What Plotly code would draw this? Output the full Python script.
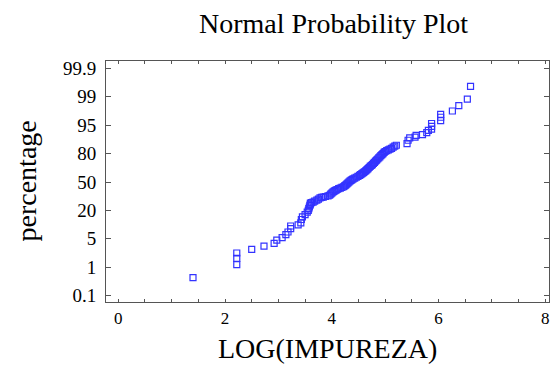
import numpy as np
import plotly.graph_objects as go

# ---- data ----
log_impureza = [
    1.40, 2.22, 2.22, 2.22, 2.50, 2.73, 2.92, 2.97, 3.07, 3.14, 3.18, 3.23, 3.23, 3.37, 3.42, 3.43,
    3.45, 3.50, 3.54, 3.56, 3.57, 3.58, 3.59, 3.60, 3.60, 3.62, 3.65, 3.68, 3.72, 3.75, 3.78, 3.81,
    3.84, 3.88, 3.93,
    3.96, 3.98, 4.00, 4.02, 4.04, 4.06, 4.08, 4.10, 4.13, 4.16, 4.19, 4.22, 4.24, 4.26, 4.28, 4.30,
    4.32, 4.34, 4.36, 4.38, 4.40, 4.43, 4.46, 4.49, 4.52, 4.54, 4.56, 4.58, 4.60, 4.62, 4.64, 4.66,
    4.68, 4.70, 4.72, 4.74, 4.76, 4.78, 4.80, 4.82, 4.84, 4.86, 4.88, 4.90, 4.92, 4.94, 4.96, 4.98,
    5.00, 5.03, 5.06, 5.09, 5.12, 5.15, 5.18, 5.21,
    5.41, 5.43, 5.46, 5.56, 5.58, 5.70, 5.78, 5.81, 5.87, 5.87, 5.87, 6.04, 6.04, 6.04, 6.26, 6.38,
    6.54, 6.60,
]
percentage = [
    0.67, 1.36, 2.24, 3.0, 3.52, 3.96, 4.36, 4.8, 5.6, 7.25, 8.6, 10.4, 11.75, 12.35, 13.4, 15.2,
    16.55, 17.75, 19.1, 20.0, 21.8, 23.6, 25.4, 26.6, 27.8, 28.3, 28.7, 29.8, 30.8, 32.0, 33.2, 33.7,
    34.1, 34.7, 35.3,
    36.0, 37.2, 38.3, 39.2, 40.0, 40.8, 41.5, 42.1, 42.9, 43.6, 44.3, 45.0, 45.9, 46.8, 47.8, 48.8,
    49.9, 51.0, 51.8, 52.5, 53.2, 54.1, 55.0, 56.0, 57.0, 57.8, 58.6, 59.4, 60.2, 61.1, 62.0, 63.0,
    64.1, 65.3, 66.4, 67.4, 68.4, 69.6, 70.8, 72.0, 73.2, 74.3, 75.4, 76.6, 77.8, 79.0, 80.0, 80.6,
    81.1, 81.6, 82.0, 82.4, 82.8, 83.4, 83.9, 84.4,
    85.25, 87.05, 88.25, 88.7, 89.6, 90.05, 91.1, 92.3, 92.9, 94.4, 95.24, 95.64, 96.12, 96.52,
    97.0, 97.76, 98.68, 99.33,
]
pct_ticks = [0.1, 1, 5, 20, 50, 80, 95, 99, 99.9]
pct_tick_labels = ["0.1", "1", "5", "20", "50", "80", "95", "99", "99.9"]
x_ticks = [0, 2, 4, 6, 8]

# probability axis: tick labels sit at equal spacing
tick_pos = list(range(len(pct_ticks)))
ypos = np.interp(percentage, pct_ticks, tick_pos)

x_all = [i * 0.5 for i in range(0, 17)]
x_text = [str(int(v)) if v in x_ticks else "" for v in x_all]

fig = go.Figure()
fig.add_trace(go.Scatter(
    x=log_impureza, y=ypos, mode="markers",
    marker=dict(symbol="square-open", size=6, color="#3333ff", line=dict(width=1.2, color="#3333ff")),
    hoverinfo="skip", showlegend=False,
))

serif = "Liberation Serif, Times New Roman, serif"
fig.update_layout(
    width=558, height=365,
    margin=dict(l=106, r=9, t=61, b=63),
    paper_bgcolor="white", plot_bgcolor="white",
    font=dict(family=serif, color="black"),
    xaxis=dict(
        range=[-0.23, 8.07], tickmode="array", tickvals=x_all, ticktext=x_text,
        ticks="inside", ticklen=3, tickcolor="#555", showline=True, linecolor="#555", linewidth=1,
        mirror="ticks", showgrid=False, zeroline=False, tickfont=dict(size=17, family=serif),
        ticklabelstandoff=1,
    ),
    yaxis=dict(
        range=[-0.225, 8.26], tickmode="array", tickvals=tick_pos, ticktext=pct_tick_labels,
        ticks="inside", ticklen=5, tickcolor="#555", showline=True, linecolor="#555", linewidth=1,
        mirror="ticks", showgrid=False, zeroline=False, tickfont=dict(size=19, family=serif),
        ticklabelstandoff=5,
    ),
    annotations=[
        dict(text="Normal Probability Plot", xref="paper", yref="paper", x=0.514, y=1, yshift=38,
             showarrow=False, font=dict(size=28, family=serif), xanchor="center", yanchor="middle"),
        dict(text="LOG(IMPUREZA)", xref="paper", yref="paper", x=0.5, y=0, yshift=-46,
             showarrow=False, font=dict(size=28, family=serif), xanchor="center", yanchor="middle"),
        dict(text="percentage", xref="paper", yref="paper", x=0, xshift=-80, y=0.5, textangle=-90,
             showarrow=False, font=dict(size=28, family=serif), xanchor="center", yanchor="middle"),
    ],
)
fig.write_html("out.html")
